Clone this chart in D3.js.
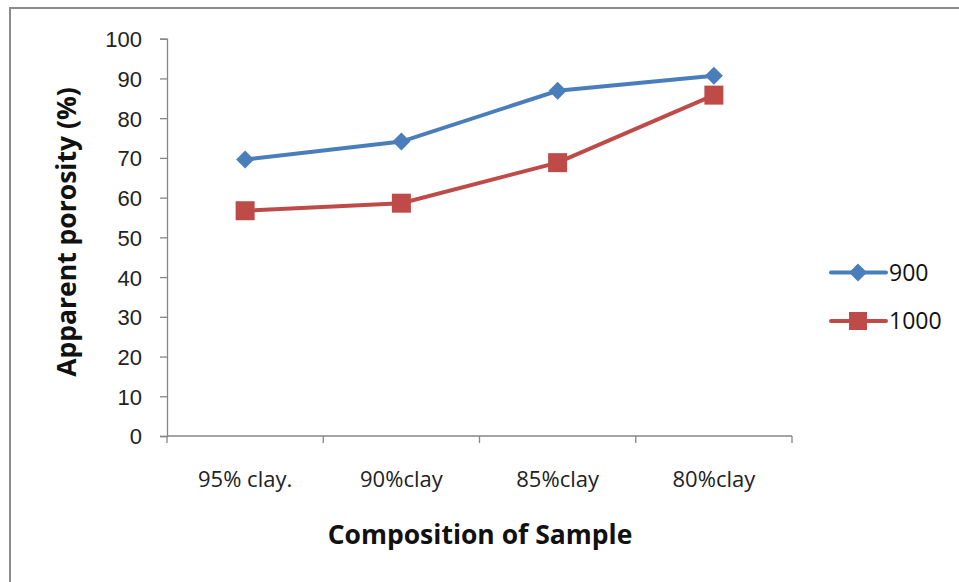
<!DOCTYPE html>
<html>
<head>
<meta charset="utf-8">
<script src="https://cdn.jsdelivr.net/npm/d3@7"></script>
<style>
  html, body { margin: 0; padding: 0; background: #fff; }
  svg { display: block; font-family: "Open Sans", Lato, sans-serif; }
</style>
</head>
<body>
<svg id="chart" width="959" height="582"></svg>
<script>
// Apparent porosity by sample composition at two firing temperatures
const categories = ["95% clay.", "90%clay", "85%clay", "80%clay"];
const series900 = [69.6, 74.1, 86.9, 90.7];
const series1000 = [56.7, 58.6, 68.8, 85.8];
const seriesNames = ["900", "1000"];
const yTicks = [0, 10, 20, 30, 40, 50, 60, 70, 80, 90, 100];

const svg = d3.select("#chart");
const W = 959, H = 582;
const margin = { left: 167, top: 38.7 };
const plotW = 792 - 167;
const plotH = 436 - 38.7;

// outer frame
svg.append("rect")
  .attr("x", 10).attr("y", 8)
  .attr("width", W + 20).attr("height", H + 20)
  .attr("fill", "none").attr("stroke", "#8c8c8c").attr("stroke-width", 2);

const g = svg.append("g").attr("transform", `translate(${margin.left},${margin.top})`);

const x = d3.scaleBand().domain(categories).range([0, plotW]);
const y = d3.scaleLinear().domain([0, 100]).range([plotH, 0]);

const axisColor = "#868686";

// y axis
const yAxis = g.append("g")
  .call(d3.axisLeft(y).tickValues(yTicks).tickSize(7).tickPadding(18));
yAxis.select(".domain").attr("stroke", axisColor).attr("stroke-width", 1.3);
yAxis.selectAll(".tick line").attr("stroke", axisColor).attr("stroke-width", 1.3);
yAxis.selectAll(".tick text")
  .attr("fill", "#222").style("font-size", "22px").attr("dy", "0.36em");

// x axis with ticks at category boundaries
const xAxisG = g.append("g").attr("transform", `translate(0,${plotH})`);
xAxisG.append("line")
  .attr("x1", 0).attr("x2", plotW).attr("y1", 0).attr("y2", 0)
  .attr("stroke", axisColor).attr("stroke-width", 1.3);
const boundaries = categories.map(c => x(c)).concat([plotW]);
xAxisG.selectAll(".bt").data(boundaries).enter().append("line")
  .attr("x1", d => d).attr("x2", d => d)
  .attr("y1", 0).attr("y2", 7)
  .attr("stroke", axisColor).attr("stroke-width", 1.3);
xAxisG.selectAll(".cl").data(categories).enter().append("text")
  .attr("x", d => x(d) + x.bandwidth() / 2)
  .attr("y", 51)
  .attr("text-anchor", "middle")
  .attr("fill", "#222")
  .style("font-size", "22px")
  .text(d => d);

const cx = d => x(d) + x.bandwidth() / 2;
const line = d3.line().x(d => cx(d.c)).y(d => y(d.v));

const colors = ["#4A7EBB", "#BE4B48"];
const data = [series900, series1000].map(vals => categories.map((c, i) => ({ c, v: vals[i] })));

data.forEach((pts, si) => {
  g.append("path")
    .datum(pts)
    .attr("fill", "none")
    .attr("stroke", colors[si])
    .attr("stroke-width", 4)
    .attr("d", line);
});

// diamond markers
g.selectAll(".dm").data(data[0]).enter().append("path")
  .attr("transform", d => `translate(${cx(d.c)},${y(d.v)})`)
  .attr("d", "M0,-9L9,0L0,9L-9,0Z")
  .attr("fill", colors[0]);

// square markers
g.selectAll(".sq").data(data[1]).enter().append("rect")
  .attr("x", d => cx(d.c) - 9.5).attr("y", d => y(d.v) - 9.5)
  .attr("width", 19).attr("height", 19)
  .attr("fill", colors[1]);

// axis titles
svg.append("text")
  .attr("transform", "translate(76,232) rotate(-90)")
  .attr("text-anchor", "middle")
  .attr("font-weight", "bold")
  .style("font-size", "26.5px")
  .attr("fill", "#111")
  .text("Apparent porosity (%)");

svg.append("text")
  .attr("x", 480).attr("y", 544)
  .attr("text-anchor", "middle")
  .attr("font-weight", "bold")
  .style("font-size", "26.5px")
  .attr("fill", "#111")
  .text("Composition of Sample");

// legend
const legend = svg.append("g");
const legendY = [272.5, 321];
seriesNames.forEach((name, i) => {
  const lg = legend.append("g").attr("transform", `translate(831,${legendY[i]})`);
  lg.append("line").attr("x1", 0).attr("x2", 55).attr("y1", 0).attr("y2", 0)
    .attr("stroke", colors[i]).attr("stroke-width", 4).attr("stroke-linecap", "round");
  if (i === 0) {
    lg.append("path").attr("d", "M27,-9L36,0L27,9L18,0Z").attr("fill", colors[i]);
  } else {
    lg.append("rect").attr("x", 18).attr("y", -9).attr("width", 18).attr("height", 18).attr("fill", colors[i]);
  }
  lg.append("text").attr("x", 58).attr("y", 0).attr("dy", "0.36em")
    .style("font-size", "23px").attr("fill", "#111").text(name);
});
</script>
</body>
</html>
